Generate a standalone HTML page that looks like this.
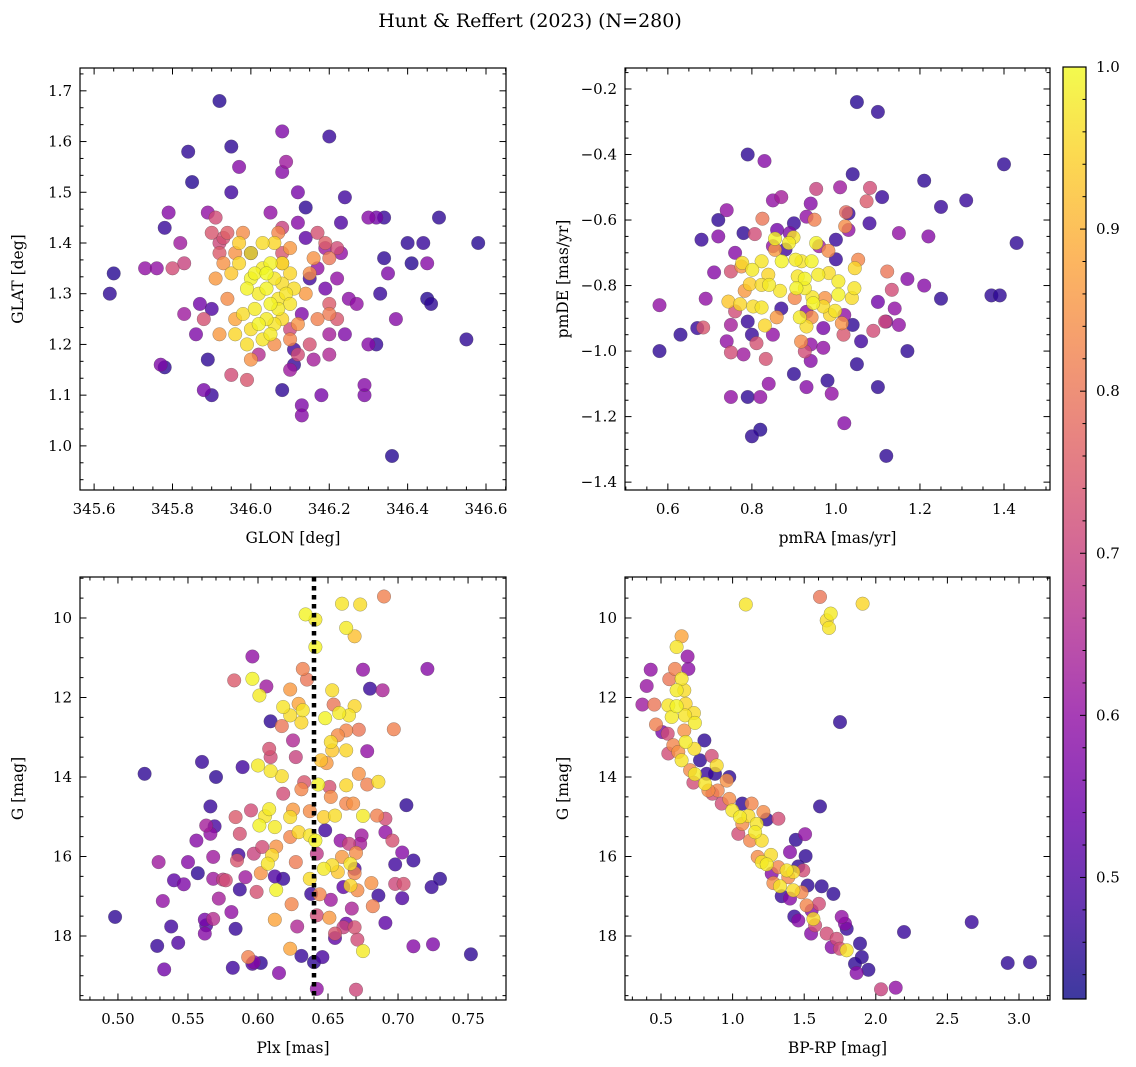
<!DOCTYPE html>
<html><head><meta charset="utf-8">
<style>
html,body{margin:0;padding:0;background:#fff;}
svg{display:block;font-family:"DejaVu Serif","Liberation Serif",serif;}
</style></head>
<body>
<svg id="fig" width="1136" height="1067" viewBox="0 0 1136 1067" xmlns="http://www.w3.org/2000/svg">
<defs>
<linearGradient id="cbgrad" x1="0" y1="1" x2="0" y2="0">
<stop offset="0" stop-color="#0d0887"/><stop offset="0.1" stop-color="#41049d"/><stop offset="0.2" stop-color="#6a00a8"/><stop offset="0.3" stop-color="#8f0da4"/><stop offset="0.4" stop-color="#b12a90"/><stop offset="0.5" stop-color="#cc4778"/><stop offset="0.6" stop-color="#e16462"/><stop offset="0.7" stop-color="#f2844b"/><stop offset="0.8" stop-color="#fca636"/><stop offset="0.9" stop-color="#fcce25"/><stop offset="1" stop-color="#f0f921"/>
</linearGradient>
</defs>
<text x="530" y="27" font-size="19" text-anchor="middle">Hunt &amp; Reffert (2023) (N=280)</text>
</svg>
<script>
// ---------- Panel 1: GLON / GLAT ----------
const glonVals=[346.0,346.02,346.04,346.06,346.03,346.05,346.07,346.01,345.99,346.08,346.09,346.04,346.02,346.06,345.98,345.97,346.0,346.03,346.06,345.97,346.08,346.10,346.10,346.05,346.0,345.96,346.03,345.99,346.05,346.08,346.11,345.95,346.01,346.07,346.04,
345.93,345.91,345.94,345.92,346.0,346.06,346.10,346.12,346.14,346.15,346.16,346.10,346.07,345.98,345.96,346.17,346.20,346.20,346.08,345.96,
345.90,345.91,345.93,345.94,345.92,345.83,345.80,346.08,346.17,346.19,346.22,346.20,346.22,346.15,346.12,345.92,345.88,345.99,345.95,346.08,346.10,
345.64,345.65,345.77,345.78,345.73,345.76,345.79,345.78,345.82,345.84,345.85,345.89,345.88,345.89,345.90,345.92,345.95,345.97,345.95,345.83,345.86,345.87,345.90,346.0,346.05,346.08,346.09,346.08,346.20,346.12,346.14,346.12,346.19,346.24,346.23,346.23,346.30,346.32,346.34,346.34,346.35,346.40,346.41,346.44,346.48,346.45,346.45,346.46,346.58,346.55,346.37,346.33,346.25,346.22,346.20,346.24,346.27,346.30,346.32,346.29,346.29,346.36,346.18,346.13,346.13,346.16,346.20,346.11,346.11,346.08,346.10,346.02,346.15,346.19,346.14,346.17,346.13];
const glatVals=[1.33,1.30,1.31,1.33,1.35,1.28,1.29,1.27,1.31,1.32,1.30,1.25,1.24,1.24,1.26,1.36,1.38,1.40,1.40,1.40,1.36,1.34,1.28,1.36,1.23,1.22,1.21,1.20,1.22,1.25,1.31,1.34,1.34,1.27,1.34,
1.36,1.33,1.29,1.22,1.17,1.20,1.21,1.24,1.30,1.34,1.37,1.39,1.42,1.42,1.38,1.25,1.26,1.37,1.36,1.25,
1.42,1.45,1.41,1.42,1.38,1.36,1.35,1.38,1.42,1.40,1.39,1.28,1.25,1.20,1.18,1.40,1.25,1.13,1.14,1.43,1.23,
1.30,1.34,1.16,1.155,1.35,1.35,1.46,1.43,1.40,1.58,1.52,1.46,1.11,1.17,1.10,1.68,1.59,1.55,1.50,1.26,1.22,1.28,1.27,1.38,1.46,1.62,1.56,1.54,1.61,1.50,1.47,1.44,1.39,1.49,1.44,1.38,1.45,1.45,1.45,1.37,1.34,1.40,1.36,1.40,1.45,1.36,1.29,1.28,1.40,1.21,1.25,1.30,1.29,1.33,1.22,1.22,1.28,1.20,1.20,1.12,1.10,0.98,1.10,1.06,1.08,1.17,1.18,1.16,1.19,1.11,1.15,1.18,1.33,1.31,1.41,1.35,1.26];
const glonProb=[0.99,0.98,0.99,0.97,0.98,0.99,0.97,0.98,0.99,0.96,0.97,0.98,0.99,0.97,0.96,0.95,0.97,0.96,0.95,0.94,0.96,0.95,0.97,0.99,0.96,0.95,0.97,0.96,0.98,0.95,0.96,0.93,0.99,0.98,1.0,
0.85,0.86,0.84,0.86,0.85,0.84,0.83,0.85,0.86,0.84,0.85,0.86,0.83,0.84,0.85,0.82,0.81,0.80,0.86,0.88,
0.74,0.72,0.73,0.76,0.75,0.70,0.72,0.74,0.73,0.76,0.72,0.75,0.74,0.73,0.72,0.71,0.73,0.74,0.72,0.70,0.71,
0.46,0.45,0.57,0.46,0.60,0.60,0.58,0.47,0.62,0.46,0.45,0.60,0.56,0.46,0.47,0.45,0.46,0.58,0.48,0.62,0.57,0.55,0.50,0.47,0.60,0.57,0.62,0.58,0.47,0.56,0.46,0.58,0.62,0.48,0.50,0.60,0.58,0.55,0.47,0.46,0.57,0.46,0.45,0.47,0.46,0.58,0.45,0.46,0.45,0.46,0.58,0.47,0.59,0.60,0.63,0.57,0.60,0.58,0.47,0.58,0.57,0.45,0.56,0.58,0.57,0.63,0.65,0.47,0.48,0.46,0.62,0.66,0.48,0.55,0.52,0.60,0.57];

// ---------- Panel 2: pmRA / pmDE ----------
const pmraVals=[0.855,0.888,0.899,0.953,0.777,0.801,0.823,0.871,0.904,0.918,0.942,0.983,0.958,0.909,0.926,0.839,0.823,0.841,0.867,0.795,0.772,0.744,0.803,0.823,0.831,0.906,0.926,0.944,0.970,1.006,1.045,1.044,1.038,1.006,0.986,0.998,0.930,0.914,0.946,
0.825,0.949,1.024,1.022,0.807,0.855,0.982,1.053,0.775,0.750,1.122,1.133,1.117,1.089,1.018,0.926,0.917,0.811,0.750,0.684,0.760,0.833,1.081,1.073,0.953,1.014,0.859,0.942,0.974,0.902,0.783,
0.58,0.58,0.63,0.67,0.68,0.69,0.72,0.71,0.74,0.75,0.78,0.79,0.83,0.79,0.80,0.82,0.82,0.84,0.80,0.75,0.74,0.72,0.85,0.87,0.94,0.93,0.90,1.01,1.04,1.03,1.08,1.11,1.15,1.21,1.22,1.25,1.31,1.40,1.43,1.37,1.39,1.25,1.21,1.17,1.14,1.12,1.17,1.15,1.10,1.12,1.05,1.02,0.98,0.99,0.90,0.93,0.94,1.04,1.06,1.10,1.05,1.10,1.0,0.88,0.97,0.94,0.85,0.86,0.89,0.96,1.00,1.03,0.93,0.97,1.02,0.79,0.85,0.87,0.76,0.78];
const pmdeVals=[-0.657,-0.670,-0.653,-0.670,-0.731,-0.752,-0.726,-0.726,-0.721,-0.726,-0.726,-0.762,-0.767,-0.772,-0.779,-0.767,-0.798,-0.798,-0.816,-0.796,-0.857,-0.849,-0.864,-0.867,-0.922,-0.808,-0.808,-0.836,-0.864,-0.787,-0.747,-0.808,-0.838,-0.828,-0.889,-0.877,-0.925,-0.897,-0.854,
-0.596,-0.599,-0.576,-0.619,-0.643,-0.691,-0.694,-0.721,-0.742,-0.757,-0.757,-0.813,-0.910,-0.938,-0.950,-1.001,-0.971,-0.976,-1.004,-0.928,-0.879,-1.024,-0.502,-0.543,-0.505,-0.915,-0.897,-0.897,-0.838,-0.838,-0.816,
-0.86,-1.00,-0.95,-0.93,-0.66,-0.84,-0.65,-0.76,-0.97,-1.14,-1.01,-0.40,-0.42,-1.14,-1.26,-1.24,-1.14,-1.10,-0.95,-0.92,-0.57,-0.60,-0.54,-0.53,-0.55,-0.59,-0.61,-0.50,-0.46,-0.58,-0.61,-0.53,-0.64,-0.48,-0.65,-0.56,-0.54,-0.43,-0.67,-0.83,-0.83,-0.84,-0.80,-0.78,-0.87,-0.91,-1.00,-0.92,-1.11,-1.32,-1.04,-1.22,-1.09,-1.13,-1.07,-1.11,-0.98,-0.92,-0.97,-0.85,-0.24,-0.27,-0.66,-0.69,-0.99,-1.03,-0.68,-0.63,-0.64,-0.68,-0.72,-0.63,-0.88,-0.93,-0.89,-0.91,-0.95,-0.87,-0.70,-0.64];
const pmProb=[0.99,0.98,0.97,0.99,0.96,0.98,0.97,0.99,0.98,0.97,0.99,0.96,0.98,0.97,0.99,0.95,0.96,0.98,0.97,0.94,0.95,0.93,0.96,0.97,0.95,0.99,0.98,0.97,0.96,0.98,0.95,0.97,0.96,0.99,0.95,0.97,0.96,0.98,0.99,
0.80,0.82,0.78,0.84,0.72,0.86,0.84,0.83,0.85,0.73,0.80,0.72,0.71,0.72,0.74,0.72,0.84,0.73,0.72,0.74,0.72,0.73,0.72,0.75,0.70,0.85,0.86,0.84,0.85,0.83,0.86,
0.60,0.46,0.46,0.47,0.47,0.60,0.58,0.58,0.60,0.60,0.62,0.46,0.58,0.46,0.46,0.45,0.60,0.60,0.47,0.63,0.60,0.46,0.60,0.63,0.58,0.60,0.47,0.62,0.46,0.47,0.48,0.47,0.60,0.46,0.58,0.47,0.47,0.46,0.46,0.46,0.46,0.46,0.58,0.58,0.60,0.57,0.46,0.60,0.46,0.46,0.46,0.58,0.46,0.60,0.46,0.58,0.60,0.46,0.48,0.55,0.45,0.46,0.47,0.48,0.60,0.58,0.60,0.55,0.57,0.62,0.47,0.60,0.58,0.56,0.60,0.47,0.60,0.47,0.58,0.46];

// ---------- Panel 3: Plx / G ----------
const plxVals=[0.634,0.641,0.641,0.660,0.673,0.663,0.669,0.690,0.596,0.601,0.618,0.623,0.631,0.629,0.632,0.648,0.653,0.658,0.665,0.669,0.652,0.653,0.663,0.645,0.600,0.609,0.617,0.643,0.663,0.686,0.608,0.605,0.601,0.623,0.612,0.629,0.637,0.641,0.647,0.655,0.675,0.607,0.610,0.647,0.653,0.657,0.666,0.613,0.637,0.666,0.675,0.623,
0.632,0.635,0.623,0.617,0.654,0.697,0.663,0.672,0.657,0.649,0.672,0.678,0.631,0.652,0.663,0.668,0.685,0.625,0.637,0.623,0.613,0.627,0.602,0.660,0.670,0.669,0.681,0.671,0.682,0.624,0.612,0.651,0.593,0.644,
0.583,0.608,0.609,0.627,0.618,0.633,0.651,0.595,0.584,0.587,0.603,0.597,0.585,0.599,0.577,0.696,0.691,0.698,0.704,0.642,0.655,0.661,0.669,0.671,0.670,0.665,0.642,0.568,0.575,
0.596,0.606,0.675,0.689,0.721,0.678,0.625,0.568,0.563,0.566,0.556,0.529,0.550,0.547,0.532,0.568,0.572,0.562,0.581,0.615,0.642,0.667,0.652,0.659,0.674,0.673,0.691,0.703,0.711,0.725,0.591,0.562,0.597,0.628,
0.519,0.560,0.570,0.589,0.609,0.566,0.569,0.680,0.706,0.711,0.698,0.730,0.724,0.703,0.686,0.691,0.752,0.498,0.528,0.543,0.538,0.533,0.557,0.540,0.563,0.584,0.582,0.602,0.596,0.631,0.646,0.640,0.638,0.648,0.669,0.661,0.618,0.612,0.586,0.655,0.663,0.587];
const gPlxVals=[9.91,10.04,10.73,9.64,9.66,10.25,10.46,9.46,11.53,11.95,12.24,12.45,12.63,12.16,12.32,12.52,11.82,12.39,12.45,12.22,13.12,13.33,13.33,13.58,13.71,13.85,13.98,14.19,14.21,14.12,14.81,14.99,15.22,15.01,15.26,15.39,15.47,15.60,15.01,14.97,14.98,16.18,15.97,16.31,16.22,16.39,16.18,16.84,16.56,16.73,18.38,18.32,
11.28,11.55,11.80,12.72,12.18,12.80,12.83,12.81,12.95,13.65,13.92,14.19,14.31,14.50,14.67,14.67,14.97,14.82,14.86,15.51,15.75,16.14,16.42,16.01,15.91,16.42,16.67,16.85,17.25,17.20,17.59,17.54,18.53,16.95,
11.57,13.29,13.50,13.50,14.42,14.13,14.25,14.84,15.01,15.43,15.76,15.93,16.10,16.89,16.60,15.60,15.05,16.69,16.69,17.48,17.94,17.78,17.78,18.09,19.35,15.68,15.93,17.57,16.58,
10.97,11.72,11.30,11.82,11.28,13.35,13.08,16.01,15.22,15.43,15.60,16.14,16.14,16.70,17.12,16.56,17.06,17.94,17.40,18.93,19.33,17.31,17.09,15.60,15.47,15.68,15.39,15.90,18.26,18.21,16.52,17.59,18.66,17.76,
13.92,13.62,14.00,13.75,12.60,14.74,15.24,11.78,14.71,16.10,16.20,16.56,16.77,17.05,16.98,17.67,18.46,17.52,18.25,18.17,17.76,18.84,16.42,16.60,17.73,17.82,18.80,18.68,18.70,18.50,18.53,18.66,16.94,15.34,16.31,16.77,16.56,16.50,15.96,18.05,17.69,16.83];
const plxProb=[0.99,0.98,0.99,0.97,0.96,0.98,0.92,0.82,0.99,0.98,0.97,0.96,0.95,0.88,0.97,0.99,0.96,0.98,0.97,0.95,0.96,0.93,0.95,0.92,0.98,0.97,0.96,0.99,0.95,0.96,0.98,0.97,0.99,0.96,0.98,0.95,0.97,0.99,0.94,0.96,0.98,0.97,0.95,0.98,0.96,0.93,0.97,0.99,0.96,0.95,0.98,0.88,
0.82,0.80,0.86,0.80,0.80,0.82,0.83,0.80,0.84,0.86,0.85,0.82,0.83,0.84,0.83,0.85,0.82,0.86,0.84,0.83,0.85,0.81,0.85,0.86,0.84,0.83,0.85,0.84,0.82,0.83,0.88,0.86,0.82,0.83,
0.75,0.73,0.72,0.70,0.72,0.74,0.73,0.72,0.75,0.73,0.72,0.70,0.74,0.73,0.72,0.73,0.72,0.71,0.73,0.72,0.74,0.70,0.73,0.72,0.71,0.70,0.68,0.66,0.69,
0.60,0.62,0.60,0.64,0.58,0.60,0.65,0.62,0.63,0.60,0.58,0.62,0.58,0.57,0.60,0.62,0.63,0.58,0.60,0.58,0.60,0.64,0.62,0.60,0.62,0.63,0.60,0.58,0.58,0.57,0.62,0.56,0.58,0.65,
0.46,0.47,0.46,0.48,0.46,0.47,0.49,0.47,0.46,0.47,0.48,0.46,0.47,0.50,0.47,0.52,0.46,0.46,0.47,0.50,0.48,0.55,0.46,0.52,0.50,0.47,0.48,0.46,0.50,0.47,0.49,0.46,0.47,0.48,0.50,0.52,0.47,0.50,0.48,0.52,0.54,0.47];

// ---------- Panel 4: BP-RP / G ----------
const bprpVals=[1.092,1.610,1.685,1.657,1.673,1.908,1.750,1.610,2.197,2.670,2.921,3.077,2.036,2.139,
0.644,0.609,0.686,0.691,0.428,0.598,0.400,0.370,0.453,0.558,0.644,0.609,0.663,0.551,0.609,0.672,0.575,0.668,0.730,0.737,0.465,0.509,0.547,0.663,0.672,0.733,0.586,0.551,0.621,0.644,0.803,0.772,0.854,0.889,0.703,0.737,0.819,0.877,0.977,0.726,0.807,0.831,0.959,0.896,0.859,0.977,0.924,0.998,1.052,1.110,1.133,1.215,1.068,1.238,1.320,1.040,1.068,1.157,1.168,1.203,1.122,1.441,1.506,1.401,1.510,1.175,1.203,1.238,1.268,1.319,1.273,1.378,1.424,1.459,1.494,1.285,1.331,1.389,1.424,1.343,1.401,1.482,1.524,1.622,1.704,1.431,1.459,1.552,1.517,1.564,1.576,1.548,1.657,1.762,1.785,1.797,1.727,1.692,1.797,1.890,1.902,1.855,1.948,1.866,1.750,1.603];
const gCmdVals=[9.66,9.47,9.89,10.06,10.25,9.64,12.62,14.74,17.90,17.65,18.68,18.66,19.34,19.30,
10.46,10.73,10.97,11.28,11.30,11.28,11.71,12.18,12.18,11.54,11.53,11.82,11.82,12.20,12.22,12.16,12.49,12.45,12.39,12.64,12.68,12.87,12.91,12.83,13.12,13.29,13.20,13.41,13.37,13.58,13.08,13.58,13.47,13.71,13.83,13.93,13.92,13.92,14.00,14.14,14.17,14.34,14.09,14.34,14.42,14.55,14.67,14.84,15.01,14.98,14.67,14.88,14.67,15.07,15.05,15.43,15.18,15.39,15.18,15.60,15.60,15.58,15.44,15.89,15.99,16.01,16.14,16.20,15.96,16.27,16.43,16.35,16.39,16.25,16.35,16.67,16.75,16.52,16.85,17.00,17.06,16.90,16.73,16.75,16.94,17.51,17.61,17.36,17.23,17.57,17.73,17.94,17.94,17.52,17.69,17.82,18.07,18.28,18.36,18.19,18.53,18.70,18.85,18.93,18.32,17.19];
const cmdProb=[0.97,0.80,0.98,0.96,0.97,0.95,0.46,0.46,0.47,0.47,0.46,0.46,0.70,0.60,
0.88,0.97,0.60,0.59,0.60,0.82,0.61,0.62,0.80,0.80,0.97,0.98,0.96,0.97,0.99,0.95,0.98,0.97,0.96,0.98,0.82,0.56,0.72,0.85,0.98,0.96,0.83,0.72,0.85,0.97,0.46,0.46,0.72,0.96,0.84,0.98,0.47,0.46,0.46,0.72,0.97,0.84,0.85,0.83,0.72,0.84,0.72,0.97,0.98,0.96,0.83,0.84,0.46,0.46,0.72,0.72,0.84,0.98,0.97,0.96,0.83,0.46,0.60,0.58,0.46,0.84,0.97,0.98,0.96,0.83,0.58,0.97,0.96,0.46,0.72,0.84,0.97,0.83,0.96,0.47,0.58,0.83,0.46,0.46,0.46,0.47,0.58,0.58,0.83,0.96,0.72,0.58,0.72,0.60,0.58,0.47,0.72,0.58,0.97,0.46,0.46,0.46,0.46,0.58,0.72,0.72];

const medianPlx=[0.64];
const cbTicks=[0.5,0.6,0.7,0.8,0.9,1.0];

const NS="http://www.w3.org/2000/svg";
const svg=document.getElementById('fig');
const PMIN=0.425,PMAX=1.0;
const stops=[[13,8,135],[65,4,157],[106,0,168],[143,13,164],[177,42,144],[204,71,120],[225,100,98],[242,132,75],[252,166,54],[252,206,37],[240,249,33]];
function plasma(p){let t=(p-PMIN)/(PMAX-PMIN);t=Math.max(0,Math.min(1,t))*10;const i=Math.min(9,Math.floor(t)),f=t-i;const a=stops[i],b=stops[i+1];return 'rgb('+a.map((v,k)=>Math.round(v+(b[k]-v)*f)).join(',')+')';}
function mk(tag,attrs,parent){const e=document.createElementNS(NS,tag);for(const k in attrs)e.setAttribute(k,attrs[k]);(parent||svg).appendChild(e);return e;}
function fmt(v,d){const s=v.toFixed(d);return s.replace('-','\u2212');}

function panel(c){
  const g=mk('g',{});
  
  
  const sx=v=>c.x0+(v-c.xd[0])/(c.xd[1]-c.xd[0])*(c.x1-c.x0);
  const sy=v=>c.y0+(v-c.yd[0])/(c.yd[1]-c.yd[0])*(c.y1-c.y0);
  const cid='clip-'+c.name;
  const cp=mk('clipPath',{id:cid},g);mk('rect',{x:c.x0,y:c.y0,width:c.x1-c.x0,height:c.y1-c.y0},cp);
  const pg=mk('g',{'clip-path':'url(#'+cid+')'},g);
  
  
  const idx=c.xs.map((_,i)=>i).sort((a,b)=>c.ps[a]-c.ps[b]);
  idx.forEach(i=>{
    const ci=mk('circle',{cx:sx(c.xs[i]).toFixed(1),cy:sy(c.ys[i]).toFixed(1),r:6.8,fill:plasma(c.ps[i]),'fill-opacity':0.8,stroke:'#444','stroke-opacity':0.5,'stroke-width':0.5},pg);
    
    
  });
  if(c.vline){c.vline.forEach(v=>{const l=mk('line',{x1:sx(v),x2:sx(v),y1:c.y0,y2:c.y1,stroke:'#000','stroke-width':4.5,'stroke-dasharray':'4.5,4.5'},pg);
    
    });}
  const fr=mk('rect',{x:c.x0,y:c.y0,width:c.x1-c.x0,height:c.y1-c.y0,fill:'none',stroke:'#000','stroke-width':1.2},g);
  
  
  const tk=mk('g',{stroke:'#000','stroke-width':1},g);
  const xmin=Math.min(...c.xd),xmax=Math.max(...c.xd);
  for(let k=Math.ceil(xmin/c.xminor-1e-6);k*c.xminor<=xmax+1e-9;k++){const v=k*c.xminor;const X=sx(v);
    const maj=c.xt.some(t=>Math.abs(t-v)<1e-6);const L=maj?6.5:3.5;
    mk('line',{x1:X,x2:X,y1:c.y1,y2:c.y1-L},tk);mk('line',{x1:X,x2:X,y1:c.y0,y2:c.y0+L},tk);}
  const ymin=Math.min(...c.yd),ymax=Math.max(...c.yd);
  for(let k=Math.ceil(ymin/c.yminor-1e-6);k*c.yminor<=ymax+1e-9;k++){const v=k*c.yminor;const Y=sy(v);
    const maj=c.yt.some(t=>Math.abs(t-v)<1e-6);const L=maj?6.5:3.5;
    mk('line',{x1:c.x0,x2:c.x0+L,y1:Y,y2:Y},tk);mk('line',{x1:c.x1,x2:c.x1-L,y1:Y,y2:Y},tk);}
  c.xt.forEach(v=>{const t=mk('text',{x:sx(v),y:c.y1+24,'font-size':15,'text-anchor':'middle'},g);t.textContent=fmt(v,c.xdec);
    
    });
  c.yt.forEach(v=>{const t=mk('text',{x:c.x0-8,y:sy(v)+5,'font-size':15,'text-anchor':'end'},g);t.textContent=fmt(v,c.ydec);
    
    });
  const xl=mk('text',{x:(c.x0+c.x1)/2,y:c.y1+53,'font-size':15.5,'text-anchor':'middle'},g);xl.textContent=c.xl;
  
  
  const yx=c.x0-57,yy=(c.y0+c.y1)/2;
  const yl=mk('text',{x:yx,y:yy,'font-size':15.5,'text-anchor':'middle',transform:'rotate(-90 '+yx+' '+yy+')'},g);yl.textContent=c.yl;
  
  
}

panel({name:'glon-glat-panel',x0:80,x1:506,y0:68,y1:490,xd:[345.564,346.651],yd:[1.745,0.913],xs:glonVals,ys:glatVals,ps:glonProb,
  xt:[345.6,345.8,346.0,346.2,346.4,346.6],xminor:0.05,xdec:1,yt:[1.0,1.1,1.2,1.3,1.4,1.5,1.6,1.7],yminor:0.1/3,ydec:1,xl:'GLON [deg]',yl:'GLAT [deg]'});
panel({name:'proper-motion-panel',x0:625,x1:1050,y0:68,y1:490,xd:[0.498,1.5095],yd:[-0.136,-1.424],xs:pmraVals,ys:pmdeVals,ps:pmProb,
  xt:[0.6,0.8,1.0,1.2,1.4],xminor:0.05,xdec:1,yt:[-0.2,-0.4,-0.6,-0.8,-1.0,-1.2,-1.4],yminor:0.05,ydec:1,xl:'pmRA [mas/yr]',yl:'pmDE [mas/yr]'});
panel({name:'parallax-magnitude-panel',x0:80,x1:506,y0:577,y1:1000,xd:[0.4729,0.7771],yd:[8.969,19.61],xs:plxVals,ys:gPlxVals,ps:plxProb,vline:medianPlx,
  xt:[0.50,0.55,0.60,0.65,0.70,0.75],xminor:0.01,xdec:2,yt:[10,12,14,16,18],yminor:0.5,ydec:0,xl:'Plx [mas]',yl:'G [mag]'});
panel({name:'color-magnitude-panel',x0:625,x1:1050,y0:577,y1:1000,xd:[0.2486,3.2165],yd:[8.969,19.61],xs:bprpVals,ys:gCmdVals,ps:cmdProb,
  xt:[0.5,1.0,1.5,2.0,2.5,3.0],xminor:0.1,xdec:1,yt:[10,12,14,16,18],yminor:0.5,ydec:0,xl:'BP-RP [mag]',yl:'G [mag]'});

// colorbar
(function(){
  const x0=1063,x1=1086,y0=67,y1=999;
  const cy=v=>y1-(v-PMIN)/(PMAX-PMIN)*(y1-y0);
  const g=mk('g',{});
  
  
  mk('rect',{x:x0,y:y0,width:x1-x0,height:y1-y0,fill:'#fff'},g);
  mk('rect',{x:x0,y:y0,width:x1-x0,height:y1-y0,fill:'url(#cbgrad)','fill-opacity':0.8},g);
  mk('rect',{x:x0,y:y0,width:x1-x0,height:y1-y0,fill:'none',stroke:'#000','stroke-width':1.2},g);
  for(let k=22;k<=50;k++){const v=k*0.02;const Y=cy(v);if(Y<y0+1||Y>y1-1)continue;const maj=cbTicks.some(t=>Math.abs(t-v)<1e-6);
    mk('line',{x1:x1,x2:x1-(maj?6:3.5),y1:Y,y2:Y,stroke:'#000','stroke-width':1},g);}
  cbTicks.forEach(v=>{const t=mk('text',{x:x1+10,y:cy(v)+5,'font-size':15},g);t.textContent=v.toFixed(1);
    
    });
})();
</script>
</body></html>
